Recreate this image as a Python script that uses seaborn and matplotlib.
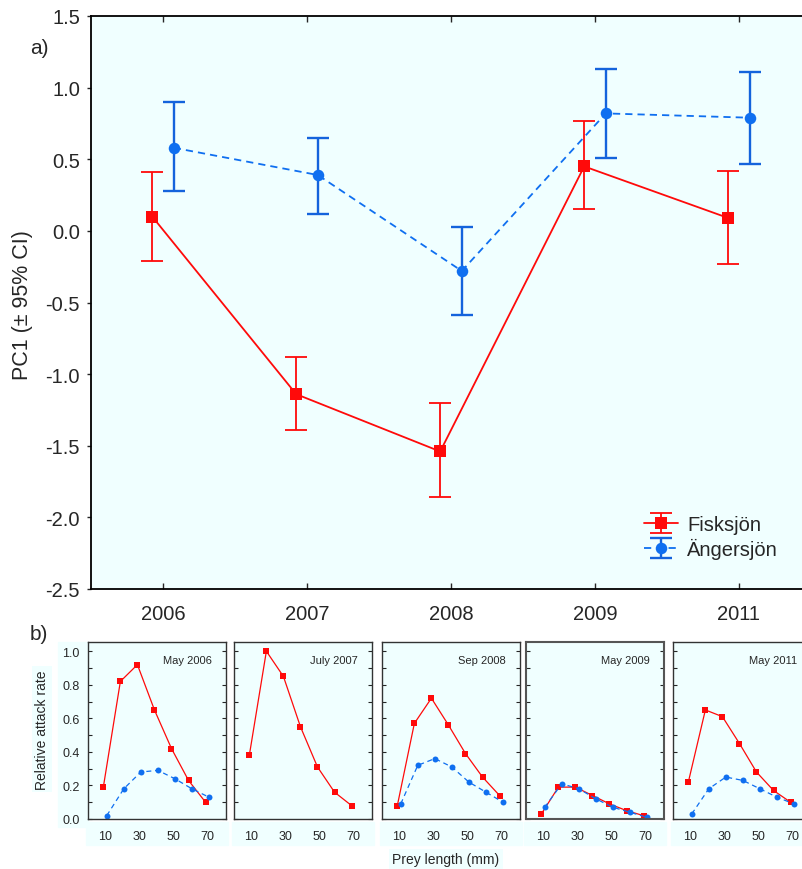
import numpy as np
import pandas as pd
import matplotlib
matplotlib.use("Agg")
import matplotlib.pyplot as plt
from matplotlib.patches import Rectangle
from matplotlib.lines import Line2D
from matplotlib.legend_handler import HandlerTuple
import seaborn as sns

##______________________ panel a) : PC1 (mean, 95% CI) ______________________##
years = ["2006", "2007", "2008", "2009", "2011"]
fisk_mean = [0.10, -1.14, -1.54, 0.45, 0.09]
fisk_lo = [-0.21, -1.39, -1.86, 0.15, -0.23]
fisk_hi = [0.41, -0.88, -1.20, 0.77, 0.42]
anger_mean = [0.58, 0.39, -0.28, 0.82, 0.79]
anger_lo = [0.28, 0.12, -0.59, 0.51, 0.47]
anger_hi = [0.90, 0.65, 0.03, 1.13, 1.11]

##______________________ panel b) : relative attack rate ______________________##
prey_len = [10, 20, 30, 40, 50, 60, 70]
panel_titles = ["May 2006", "July 2007", "Sep 2008", "May 2009", "May 2011"]
fisk_attack = [
    [0.19, 0.82, 0.92, 0.65, 0.42, 0.23, 0.10],
    [0.38, 1.00, 0.85, 0.55, 0.31, 0.16, 0.08],
    [0.08, 0.57, 0.72, 0.56, 0.39, 0.25, 0.14],
    [0.03, 0.19, 0.19, 0.14, 0.09, 0.05, 0.02],
    [0.22, 0.65, 0.61, 0.45, 0.28, 0.17, 0.10],
]
anger_attack = [
    [0.02, 0.18, 0.28, 0.29, 0.24, 0.18, 0.13],
    None,
    [0.09, 0.32, 0.36, 0.31, 0.22, 0.16, 0.10],
    [0.07, 0.21, 0.18, 0.12, 0.07, 0.04, 0.01],
    [0.03, 0.18, 0.25, 0.23, 0.18, 0.13, 0.09],
]

lakes = ["Fisksjön", "Ängersjön"]
RED = "#ff0a0a"
BLUE = "#0f6ff0"
BLUE_EB = "#1463dc"
BG = "#f0ffff"
palette = {"Fisksjön": RED, "Ängersjön": BLUE}
markers = {"Fisksjön": "s", "Ängersjön": "o"}

sns.set_style("ticks")
plt.rcParams["font.family"] = ["Liberation Sans", "DejaVu Sans"]

fig = plt.figure(figsize=(8.02, 8.70), dpi=100)

##______________________ PANEL A ______________________##
ax = fig.add_axes([91 / 802, 1 - 590 / 870, 720 / 802, 573 / 870])
ax.set_facecolor(BG)

pos = np.arange(len(years))
off = 0.075
dfa = pd.concat([
    pd.DataFrame({"x": pos - off, "pc1": fisk_mean, "lake": lakes[0]}),
    pd.DataFrame({"x": pos + off, "pc1": anger_mean, "lake": lakes[1]}),
])
sns.lineplot(data=dfa, x="x", y="pc1", hue="lake", style="lake",
             palette=palette, markers=markers,
             dashes={"Fisksjön": "", "Ängersjön": (4, 2.8)},
             markersize=8.3, markeredgewidth=0, linewidth=1.3,
             sort=False, legend=False, ax=ax, zorder=3)

fm = np.array(fisk_mean)
am = np.array(anger_mean)
eb_f = ax.errorbar(pos - off, fm, yerr=[fm - np.array(fisk_lo), np.array(fisk_hi) - fm],
                   fmt="none", ecolor=RED, elinewidth=1.3, capsize=8, capthick=1.3, zorder=2)
eb_a = ax.errorbar(pos + off, am, yerr=[am - np.array(anger_lo), np.array(anger_hi) - am],
                   fmt="none", ecolor=BLUE_EB, elinewidth=1.7, capsize=8, capthick=1.7, zorder=2)

ax.set_xlim(-0.5, 4.5)
ax.set_ylim(-2.5, 1.5)
ax.set_xticks(pos)
ax.set_xticklabels(years)
ax.set_yticks(np.arange(-2.5, 1.51, 0.5))
ax.set_yticklabels([f"{v:.1f}" for v in np.arange(-2.5, 1.51, 0.5)])
ax.tick_params(axis="x", direction="in", length=4, pad=11, labelsize=14.5, top=True, width=1)
ax.tick_params(axis="y", direction="out", length=3, pad=5, labelsize=14.5, width=1)
ax.set_xlabel("")
ax.set_ylabel("")
for s in ax.spines.values():
    s.set_linewidth(1.3)
    s.set_color("black")

h_f = Line2D([], [], color=RED, marker="s", markersize=8.3, markeredgewidth=0, lw=1.3)
h_a = Line2D([], [], color=BLUE, marker="o", markersize=8.3, markeredgewidth=0, lw=1.3,
             linestyle=(0, (4, 2.8)))
ax.legend([(eb_f, h_f), (eb_a, h_a)], lakes,
          handler_map={tuple: HandlerTuple(ndivide=1)},
          loc="lower left", bbox_to_anchor=(0.748, 0.028), frameon=False,
          fontsize=14.5, handlelength=1.7, handletextpad=0.45, labelspacing=0.2,
          borderpad=0.2)

fig.text(30 / 802, 1 - 48 / 870, "a)", fontsize=15, va="center")
fig.text(23 / 802, 1 - 305 / 870, "PC1 (± 95% CI)", fontsize=15.5,
         rotation=90, ha="center", va="center")

##______________________ PANEL B ______________________##
lefts = [88, 234, 382, 526, 673]
pw = 138
top_px, bot_px = 643, 820

# light strips behind the tick labels
fig.patches.append(Rectangle((58 / 802, 1 - 828 / 870), 30 / 802, 185 / 870,
                             transform=fig.transFigure, color=BG, zorder=-1))
for l in lefts:
    fig.patches.append(Rectangle(((l - 2) / 802, 1 - 846 / 870), (pw + 4) / 802, 23 / 870,
                                 transform=fig.transFigure, color=BG, zorder=-1))

for i, l in enumerate(lefts):
    bx = fig.add_axes([l / 802, 1 - bot_px / 870, pw / 802, (bot_px - top_px) / 870])
    bx.set_facecolor(BG)
    frames = [pd.DataFrame({"len": np.array(prey_len) - 1, "rate": fisk_attack[i], "lake": lakes[0]})]
    if anger_attack[i] is not None:
        frames.append(pd.DataFrame({"len": np.array(prey_len) + 1, "rate": anger_attack[i], "lake": lakes[1]}))
    dfb = pd.concat(frames)
    sns.lineplot(data=dfb, x="len", y="rate", hue="lake", style="lake",
                 palette=palette, markers=markers,
                 dashes={"Fisksjön": "", "Ängersjön": (4, 3)},
                 markersize=4.3, markeredgewidth=0, linewidth=0.9,
                 sort=False, legend=False, ax=bx)
    bx.set_xlim(0, 81)
    bx.set_ylim(0, 1.055)
    bx.set_xticks([10, 30, 50, 70])
    bx.set_yticks(np.arange(0, 1.01, 0.2))
    bx.set_yticks(np.arange(0.1, 1.0, 0.2), minor=True)
    bx.tick_params(axis="x", length=0, pad=8, labelsize=9)
    bx.tick_params(axis="y", which="both", direction="in", length=3, width=0.8,
                   right=True, pad=6, labelsize=9, labelleft=(i == 0))
    if i == 0:
        bx.set_yticklabels([f"{v:.1f}" for v in np.arange(0, 1.01, 0.2)])
    bx.set_xlabel("")
    bx.set_ylabel("")
    for s in bx.spines.values():
        s.set_linewidth(1.0 if i != 3 else 1.5)
        s.set_color("#333333" if i != 3 else "#555555")
    bx.text(0.9, 0.9, panel_titles[i], transform=bx.transAxes,
            ha="right", va="center", fontsize=8)

fig.text(30 / 802, 1 - 635 / 870, "b)", fontsize=15, va="center")
fig.text(42 / 802, 1 - 730 / 870, "Relative attack rate", fontsize=10,
         rotation=90, ha="center", va="center",
         bbox=dict(facecolor=BG, edgecolor="none", pad=2))
fig.text(446 / 802, 1 - 860 / 870, "Prey length (mm)", fontsize=10,
         ha="center", va="center",
         bbox=dict(facecolor=BG, edgecolor="none", pad=2.5))

fig.savefig("out.png", dpi=100)
